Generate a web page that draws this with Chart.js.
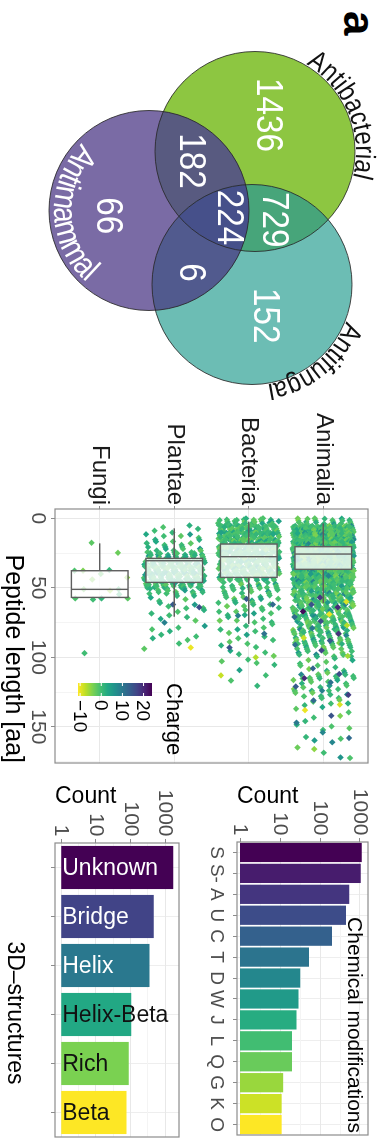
<!DOCTYPE html>
<html>
<head>
<meta charset="utf-8">
<script src="https://cdn.jsdelivr.net/npm/chart.js@4.4.1/dist/chart.umd.min.js"></script>
<style>
  html, body { margin: 0; padding: 0; background: #fff; overflow: hidden; }
  body { width: 382px; height: 1141px; position: relative; }
  /* the figure is laid out landscape, then turned a quarter turn clockwise */
  #fig { position: absolute; left: 0; top: 0; width: 1141px; height: 382px;
         transform-origin: 0 0; transform: translate(382px, 0) rotate(90deg); }
  #fig canvas { position: absolute; }
  #tag { position: absolute; left: 11px; top: -2px; line-height: 44px;
         font: bold 44px "Liberation Sans", Arial, sans-serif; color: #000; }
</style>
</head>
<body>
<div id="fig">
  <div id="tag">a</div>
  <canvas id="venn" width="400" height="382" style="left:0;top:0"></canvas>
  <canvas id="box" width="380" height="382" style="left:400px;top:0"></canvas>
  <canvas id="chem" width="361" height="192" style="left:780px;top:0"></canvas>
  <canvas id="struct" width="361" height="192" style="left:780px;top:190px"></canvas>
</div>
<script>
// ---------- DATA ----------
// venn
const vennSets = ['Antibacterial', 'Antifungal', 'Antimammal'];
const vennRegions = ['Antibacterial', 'Antibacterial&Antimammal', 'all three', 'Antibacterial&Antifungal',
                     'Antimammal', 'Antifungal&Antimammal', 'Antifungal'];
const vennCounts = [1436, 182, 224, 729, 66, 6, 152];

// peptide length by kingdom (box stats in aa)
const kingdoms = ['Animalia', 'Bacteria', 'Plantae', 'Fungi'];
const lenLow  = [3.6, 2.4, 7.2, 18];
const lenQ1   = [20.4, 18.5, 28.8, 37.7];
const lenMed  = [25.7, 27.6, 30.5, 51.1];
const lenQ3   = [36.7, 42.5, 46.1, 56.9];
const lenHigh = [61, 76, 70.8, 56.9];

// jittered peptides: counts per 5 aa bin, typical charges, and the odd coloured ones
const binWidth = 5;
const animaliaBins = [20, 70, 100, 110, 120, 110, 95, 80, 70, 55, 45, 40, 35, 32, 28, 25, 22, 20, 16, 12,
                      5, 6, 10, 10, 9, 8, 5, 3, 2, 3, 2, 3, 2, 1, 1];
const bacteriaBins = [30, 50, 55, 55, 55, 50, 45, 45, 35, 14, 12, 10, 9, 8, 6, 4, 4, 4, 3, 4, 3, 2, 1, 1, 1];
const plantaeBins  = [0, 4, 6, 8, 12, 30, 40, 40, 40, 35, 15, 5, 5, 4, 3, 3, 3, 2, 2];
const animaliaCharges = [-1, 1, -2, 0, 2, -1, -3, 1, 0, -2, 3, -1, 0, -4, 1, -1, 2, 0, -2, 5, -1, 1, 8, -3, 0];
const bacteriaCharges = [0, -1, 1, -2, 0, 2, -1, -3, 1, 0, 3, -1, -2, 0, 1, 4];
const plantaeCharges  = [0, 1, -1, 2, 0, -2, 3, 1, -1, 0, 5, 2];
const animaliaExtra = [[57, 18], [60, -9], [62, 15], [64, 20], [67, 23], [69, -10], [71, 12], [74, 16], [77, -7],
                       [79, 10], [83, 19], [86, -8], [88, 14], [91, 11], [95, 17], [99, -6], [108, 13], [112, 16],
                       [115, 20], [118, 11], [121, 14], [124, 9], [127, 18], [131, 12], [134, -9], [138, -10],
                       [142, 15], [147, 10], [154, 8], [158, 12], [166, -5], [172, 6]];
const bacteriaExtra = [[58, 14], [62, 12], [70, 9], [83, 11], [93, 15], [100, -7], [113, -8]];
const plantaeExtra  = [[62, 14], [64, 16], [75, 9], [93, -10]];
const fungiPoints = [[17.6, -2], [24.8, -3], [37.7, -4], [37.2, 1], [37.7, -1], [40, -2], [42.6, -5], [44, -4],
                     [51, 0], [51, -3], [52, -6], [57.6, -1], [57.6, 1], [57.6, -2], [58.4, 0], [54.7, 1], [97, 0]];
const chargeMin = -11, chargeMax = 24;
const chargeBreaks = [20, 10, 0, -10];

// chemical modifications and 3D structures (counts)
const modCodes  = ['S', 'S-', 'A', 'U', 'C', 'T', 'D', 'W', 'J', 'L', 'Q', 'G', 'K', 'O'];
const modCounts = [1100, 1040, 540, 445, 200, 53, 32, 29, 26, 20, 20, 12, 11, 11];
const structNames  = ['Unknown', 'Bridge', 'Helix', 'Helix-Beta', 'Rich', 'Beta'];
const structCounts = [1690, 467, 350, 104, 88, 76];
const countTicks = [1, 10, 100, 1000];

// ---------- HELPERS ----------
Chart.defaults.font.family = '"Liberation Sans", Arial, Helvetica, sans-serif';
const FONT = Chart.defaults.font.family;

const viridisStops = ['#440154', '#482475', '#414487', '#355f8d', '#2a788e', '#21918c',
                      '#22a884', '#44bf70', '#7ad151', '#bddf26', '#fde725'];
function hexToRgb(h) { return [1, 3, 5].map(i => parseInt(h.slice(i, i + 2), 16)); }
function viridis(t) {
  t = Math.max(0, Math.min(1, t));
  const p = t * 10, i = Math.min(9, Math.floor(p)), f = p - i;
  const a = hexToRgb(viridisStops[i]), b = hexToRgb(viridisStops[i + 1]);
  return 'rgb(' + a.map((v, k) => Math.round(v + (b[k] - v) * f)).join(',') + ')';
}
function viridisN(n) {
  const out = [];
  for (let i = 0; i < n; i++) out.push(viridis(n === 1 ? 0 : i / (n - 1)));
  return out;
}
function chargeColor(c) { return viridis(1 - (c - chargeMin) / (chargeMax - chargeMin)); }

// jitter: low discrepancy sequence, positions only
const g1 = 0.7548776662466927, g2 = 0.5698402909980532;
const frac = v => v - Math.floor(v);
const jitterWidth = 0.82;

function spreadBins(bins, charges, cat, seed) {
  const pts = [];
  let k = seed;
  bins.forEach((n, b) => {
    for (let j = 0; j < n; j++, k++) {
      pts.push({ x: b * binWidth + frac(0.5 + k * g1) * binWidth,
                 y: cat + (frac(0.5 + k * g2) - 0.5) * jitterWidth,
                 c: charges[k % charges.length] });
    }
  });
  return pts;
}
function listPoints(list, cat, seed) {
  return list.map((p, i) => ({ x: p[0], y: cat + (frac(0.5 + (seed + i) * g2) - 0.5) * jitterWidth, c: p[1] }));
}

const panelBorder = {
  id: 'panelBorder',
  afterDraw(chart) {
    const a = chart.chartArea, ctx = chart.ctx;
    ctx.save();
    ctx.strokeStyle = '#8c8c8c';
    ctx.lineWidth = 1.2;
    ctx.strokeRect(a.left, a.top, a.right - a.left, a.bottom - a.top);
    ctx.restore();
  }
};

const notesPlugin = {
  id: 'notes',
  afterDraw(chart, args, opts) {
    const ctx = chart.ctx;
    (opts.items || []).forEach(n => {
      ctx.save();
      ctx.font = n.size + 'px ' + FONT;
      ctx.fillStyle = n.color || '#000';
      ctx.textAlign = n.align || 'left';
      ctx.textBaseline = n.baseline || 'alphabetic';
      ctx.translate(n.x, n.y);
      if (n.rotate) ctx.rotate(n.rotate);
      ctx.fillText(n.text, 0, 0);
      ctx.restore();
    });
  }
};

// ---------- VENN ----------
// circle layout in venn-canvas pixels (layout, not data)
const vennCircles = [{ x: 151.5, y: 127 }, { x: 284.5, y: 130 }, { x: 210.5, y: 233 }];
const vennR = 100;
const vennFill = ['#8dc641', '#6cbdb4', '#7a6ba5'];
const overlapFill = [[[0, 2], '#585a80'], [[0, 1], '#47a57a'], [[1, 2], '#515a8e'], [[0, 1, 2], '#46508a']];
const vennLabelPos = [[115, 114], [161, 191], [217.5, 153], [219.7, 108], [215.8, 274], [272.5, 191], [315.8, 117]];
const setLabelArcs = [
  { angle: -112.5, r: 101, outward: true, color: '#111', size: 28 },
  { angle: -38.7, r: 101, outward: true, color: '#111', size: 28 },
  { angle: 88, r: 95, outward: false, color: '#fff', size: 33 }
];
const squeeze = 0.85; // venn lettering is narrow

function arcText(ctx, text, cx, cy, r, midDeg, outward) {
  const mid = midDeg * Math.PI / 180;
  const total = ctx.measureText(text).width * squeeze;
  let a = outward ? mid - total / r / 2 : mid + total / r / 2;
  for (const ch of text) {
    const w = ctx.measureText(ch).width * squeeze;
    const ac = outward ? a + w / 2 / r : a - w / 2 / r;
    ctx.save();
    ctx.translate(cx + r * Math.cos(ac), cy + r * Math.sin(ac));
    ctx.rotate(outward ? ac + Math.PI / 2 : ac - Math.PI / 2);
    ctx.scale(squeeze, 1);
    ctx.fillText(ch, 0, 0);
    ctx.restore();
    a = outward ? a + w / r : a - w / r;
  }
}

const vennPlugin = {
  id: 'vennExtras',
  afterDatasetsDraw(chart) {
    const ctx = chart.ctx, sx = chart.scales.x, sy = chart.scales.y;
    const circ = chart.getDatasetMeta(0).data.map(e => ({ x: e.x, y: e.y, r: e.options.radius }));
    ctx.save();
    overlapFill.forEach(([idx, color]) => {
      ctx.save();
      idx.forEach(i => { ctx.beginPath(); ctx.arc(circ[i].x, circ[i].y, circ[i].r, 0, 2 * Math.PI); ctx.clip(); });
      ctx.fillStyle = color;
      ctx.fillRect(0, 0, chart.width, chart.height);
      ctx.restore();
    });
    ctx.strokeStyle = 'rgba(40,40,40,0.85)';
    ctx.lineWidth = 1;
    circ.forEach(c => { ctx.beginPath(); ctx.arc(c.x, c.y, c.r, 0, 2 * Math.PI); ctx.stroke(); });

    ctx.fillStyle = '#fff';
    ctx.font = '37px ' + FONT;
    ctx.textAlign = 'center';
    ctx.textBaseline = 'middle';
    vennCounts.forEach((n, i) => {
      ctx.save();
      ctx.translate(sx.getPixelForValue(vennLabelPos[i][0]), sy.getPixelForValue(vennLabelPos[i][1]) + 1);
      ctx.scale(0.9, 1);
      ctx.fillText(String(n), 0, 0);
      ctx.restore();
    });

    ctx.textAlign = 'center';
    ctx.textBaseline = 'alphabetic';
    vennSets.forEach((s, i) => {
      const a = setLabelArcs[i];
      ctx.fillStyle = a.color;
      ctx.font = a.size + 'px ' + FONT;
      arcText(ctx, s, circ[i].x, circ[i].y, a.r, a.angle, a.outward);
    });
    ctx.restore();
  }
};

new Chart(document.getElementById('venn'), {
  type: 'scatter',
  data: {
    datasets: [{
      data: vennCircles.map(c => ({ x: c.x, y: c.y })),
      backgroundColor: vennFill,
      borderWidth: 0,
      pointRadius: ctx => {
        const s = ctx.chart.scales.x;
        const r = s.getPixelForValue(vennR) - s.getPixelForValue(0);
        return isFinite(r) && r > 0 ? r : vennR;
      },
      pointHoverRadius: vennR
    }]
  },
  options: {
    responsive: false, animation: false, events: [],
    layout: { padding: 0, autoPadding: false },
    plugins: { legend: { display: false }, tooltip: { enabled: false } },
    scales: {
      x: { type: 'linear', min: 0, max: 400, display: false },
      y: { type: 'linear', min: 0, max: 382, reverse: true, display: false }
    }
  },
  plugins: [vennPlugin]
});

// ---------- BOX + JITTER ----------
const boxHalf = 0.38;
const boxPoints = [].concat(
  spreadBins(animaliaBins, animaliaCharges, 0, 1),
  spreadBins(bacteriaBins, bacteriaCharges, 1, 3001),
  spreadBins(plantaeBins, plantaeCharges, 2, 6001),
  listPoints(fungiPoints, 3, 9001),
  listPoints(animaliaExtra, 0, 9501),
  listPoints(bacteriaExtra, 1, 9601),
  listPoints(plantaeExtra, 2, 9701)
);

const boxPlugin = {
  id: 'boxes',
  afterDatasetsDraw(chart) {
    const { ctx, scales: { x, y } } = chart;
    const px = v => x.getPixelForValue(v);
    ctx.save();
    ctx.strokeStyle = '#5e5e5e';
    ctx.lineWidth = 1.4;
    kingdoms.forEach((k, i) => {
      const yc = y.getPixelForValue(i);
      const h = Math.abs(y.getPixelForValue(i + boxHalf) - yc);
      ctx.beginPath();
      ctx.moveTo(px(lenLow[i]), yc); ctx.lineTo(px(lenQ1[i]), yc);
      ctx.moveTo(px(lenQ3[i]), yc); ctx.lineTo(px(lenHigh[i]), yc);
      ctx.stroke();
      ctx.fillStyle = 'rgba(255,255,255,0.78)';
      ctx.fillRect(px(lenQ1[i]), yc - h, px(lenQ3[i]) - px(lenQ1[i]), 2 * h);
      ctx.strokeRect(px(lenQ1[i]), yc - h, px(lenQ3[i]) - px(lenQ1[i]), 2 * h);
      ctx.beginPath();
      ctx.moveTo(px(lenMed[i]), yc - h); ctx.lineTo(px(lenMed[i]), yc + h);
      ctx.stroke();
    });

    // colour bar legend for charge
    const bar = { left: 283, top: 230, width: 13, height: 74 };
    const grad = ctx.createLinearGradient(0, bar.top + bar.height, 0, bar.top);
    for (let i = 0; i <= 10; i++) grad.addColorStop(i / 10, viridis(1 - i / 10));
    ctx.fillStyle = grad;
    ctx.fillRect(bar.left, bar.top, bar.width, bar.height);
    ctx.fillStyle = '#000';
    ctx.font = '22px ' + FONT;
    ctx.textAlign = 'left';
    ctx.textBaseline = 'alphabetic';
    ctx.fillText('Charge', bar.left, bar.top - 15);
    ctx.font = '19px ' + FONT;
    ctx.textBaseline = 'middle';
    chargeBreaks.forEach(v => {
      const yy = bar.top + bar.height - (v - chargeMin) / (chargeMax - chargeMin) * bar.height;
      ctx.strokeStyle = '#fff';
      ctx.lineWidth = 1;
      ctx.beginPath(); ctx.moveTo(bar.left, yy); ctx.lineTo(bar.left + 3, yy);
      ctx.moveTo(bar.left + bar.width - 3, yy); ctx.lineTo(bar.left + bar.width, yy); ctx.stroke();
      ctx.fillText(v < 0 ? '\u2212' + Math.abs(v) : String(v), bar.left + bar.width + 4, yy + 1);
    });
    ctx.restore();
  }
};

new Chart(document.getElementById('box'), {
  type: 'scatter',
  data: {
    datasets: [{
      data: boxPoints,
      pointStyle: 'rectRot',
      radius: 3.2,
      borderWidth: 0,
      backgroundColor: ctx => chargeColor(ctx.raw.c)
    }]
  },
  options: {
    responsive: false, animation: false, events: [],
    layout: { padding: { left: 0, top: 14, right: 17, bottom: 0 }, autoPadding: false },
    plugins: { legend: { display: false }, tooltip: { enabled: false } },
    scales: {
      x: {
        type: 'linear', min: -6.7, max: 176,
        afterBuildTicks: s => { s.ticks = [0, 25, 50, 75, 100, 125, 150, 175].map(v => ({ value: v })); },
        ticks: { callback: v => (v % 50 === 0 ? String(v) : ''), font: { size: 21, lineHeight: 1 },
                 color: '#4d4d4d', padding: 2.5, maxRotation: 0, autoSkip: false },
        grid: {
          color: c => (c.tick && c.tick.value % 50 === 0 ? '#e8e8e8' : '#f4f4f4'),
          tickColor: c => (c.tick && c.tick.value % 50 === 0 ? '#8c8c8c' : 'rgba(0,0,0,0)'),
          tickLength: 4
        },
        border: { display: false },
        title: { display: true, text: 'Peptide length [aa]', align: 'end', color: '#000',
                 font: { size: 25, lineHeight: 1 }, padding: { top: 0, bottom: 0 } },
        afterFit: s => { s.height = 55; }
      },
      y: {
        type: 'linear', min: -0.6, max: 3.6, reverse: true,
        afterBuildTicks: s => { s.ticks = kingdoms.map((k, i) => ({ value: i })); },
        ticks: { callback: v => kingdoms[v], font: { size: 24, lineHeight: 1 }, color: '#1a1a1a',
                 padding: 1, autoSkip: false },
        grid: { color: '#e8e8e8', tickColor: '#8c8c8c', tickLength: 3 },
        border: { display: false },
        afterFit: s => { s.width = 109; }
      }
    }
  },
  plugins: [boxPlugin, panelBorder]
});

// ---------- BAR CHARTS (log count) ----------
const minorTicks = [Math.sqrt(10), Math.sqrt(1000), Math.sqrt(100000)];
function countAxis(min, max, width) {
  return {
    type: 'logarithmic', min: min, max: max,
    afterBuildTicks: s => { s.ticks = countTicks.concat(minorTicks).sort((a, b) => a - b).map(v => ({ value: v })); },
    ticks: { callback: v => (countTicks.includes(v) ? String(v) : ''), font: { size: 21, lineHeight: 1 },
             color: '#4d4d4d', padding: 2.5, autoSkip: false },
    grid: {
      color: c => (c.tick && countTicks.includes(c.tick.value) ? '#e8e8e8' : '#f4f4f4'),
      tickColor: c => (c.tick && countTicks.includes(c.tick.value) ? '#8c8c8c' : 'rgba(0,0,0,0)'),
      tickLength: 4
    },
    border: { display: false },
    title: { display: true, text: 'Count', align: 'start', color: '#000',
             font: { size: 23, lineHeight: 1 }, padding: { top: 5.5, bottom: 0 } },
    afterFit: s => { s.width = width; }
  };
}

new Chart(document.getElementById('chem'), {
  type: 'bar',
  data: {
    labels: modCodes,
    datasets: [{ data: modCounts.map(v => [1, v]), backgroundColor: viridisN(modCodes.length),
                 barPercentage: 0.92, categoryPercentage: 1 }]
  },
  options: {
    responsive: false, animation: false, events: [],
    layout: { padding: { left: 0, top: 14, right: 6, bottom: 0 } },
    plugins: {
      legend: { display: false }, tooltip: { enabled: false },
      notes: { items: [{ text: 'Chemical modifications', x: 353, y: 34, size: 21, align: 'right' }] }
    },
    scales: {
      x: {
        offset: true,
        grid: { offset: false, color: '#eeeeee', tickColor: '#8c8c8c', tickLength: 4 },
        border: { display: false },
        ticks: { font: { size: 19, lineHeight: 1 }, color: '#4d4d4d', padding: 7.5, maxRotation: 0, autoSkip: false },
        afterFit: s => { s.height = 47; }
      },
      y: countAxis(0.841, 1585, 62)
    }
  },
  plugins: [panelBorder, notesPlugin]
});

const barTextPlugin = {
  id: 'barText',
  afterDatasetsDraw(chart) {
    const ctx = chart.ctx, y = chart.scales.y;
    const base = y.getPixelForValue(1);
    ctx.save();
    ctx.font = '23px ' + FONT;
    ctx.textAlign = 'left';
    ctx.textBaseline = 'middle';
    chart.getDatasetMeta(0).data.forEach((bar, i) => {
      ctx.save();
      ctx.translate(bar.x + 1, base);
      ctx.rotate(-Math.PI / 2);
      ctx.fillStyle = i < 3 ? '#fff' : '#111';
      ctx.fillText(structNames[i], 1, 0);
      ctx.restore();
    });
    ctx.restore();
  }
};

new Chart(document.getElementById('struct'), {
  type: 'bar',
  data: {
    labels: structNames,
    datasets: [{ data: structCounts.map(v => [1, v]), backgroundColor: viridisN(structNames.length),
                 barPercentage: 0.88, categoryPercentage: 1 }]
  },
  options: {
    responsive: false, animation: false, events: [],
    layout: { padding: { left: 0, top: 4, right: 4, bottom: 0 } },
    plugins: {
      legend: { display: false }, tooltip: { enabled: false },
      notes: { items: [{ text: '3D\u2013structures', x: 233, y: 178, size: 23, align: 'center', baseline: 'middle' }] }
    },
    scales: {
      x: {
        offset: true,
        grid: { offset: false, color: '#eeeeee', tickColor: '#8c8c8c', tickLength: 4 },
        border: { display: false },
        ticks: { display: false },
        afterFit: s => { s.height = 55; }
      },
      y: countAxis(0.66, 2484, 63)
    }
  },
  plugins: [barTextPlugin, panelBorder, notesPlugin]
});
</script>
</body>
</html>
